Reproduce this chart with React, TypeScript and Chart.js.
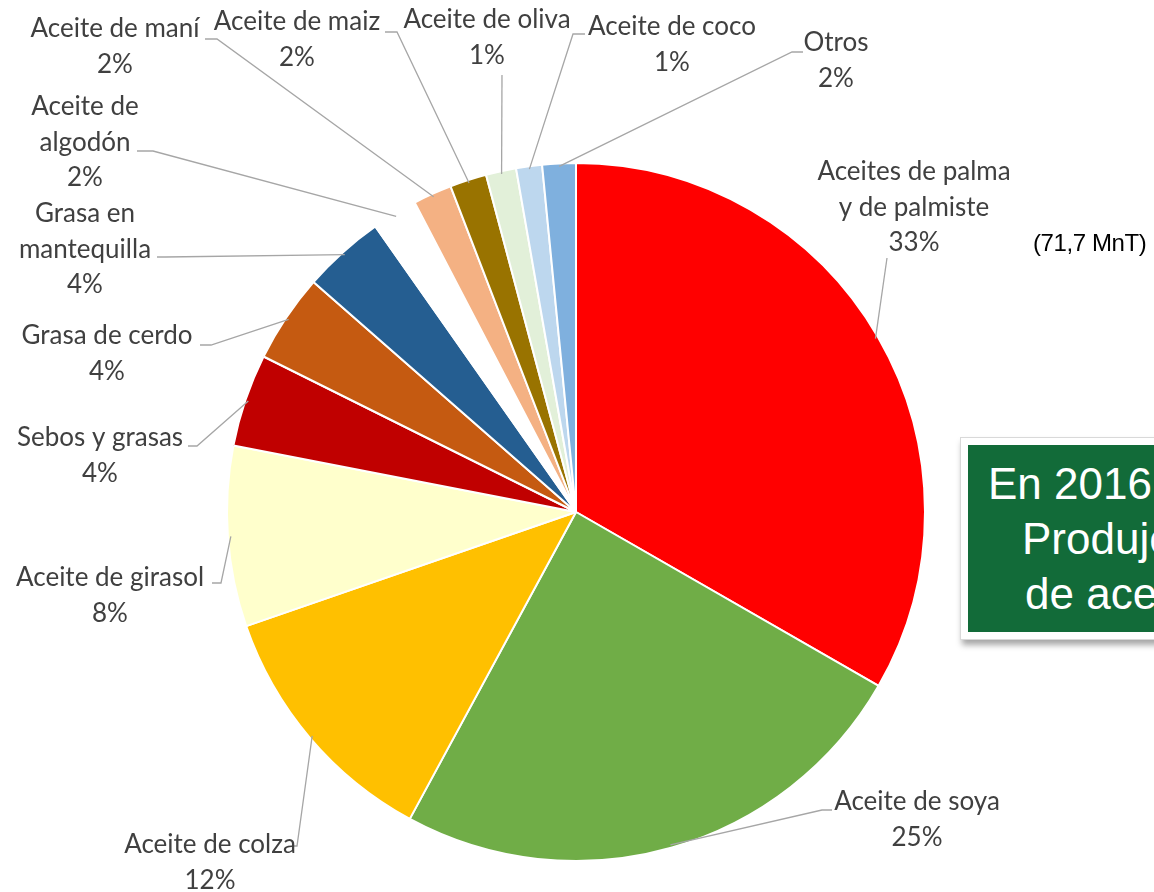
import React, { useEffect, useRef } from 'react';
import { Chart, registerables } from 'chart.js';

Chart.register(...registerables);

// ---- data ----
const categories = [
  'Aceites de palma\ny de palmiste',
  'Aceite de soya',
  'Aceite de colza',
  'Aceite de girasol',
  'Sebos y grasas',
  'Grasa de cerdo',
  'Grasa en\nmantequilla',
  'Aceite de\nalgodón',
  'Aceite de maní',
  'Aceite de maiz',
  'Aceite de oliva',
  'Aceite de coco',
  'Otros',
];
const shares = [33.3, 24.6, 11.8, 8.35, 4.3, 4.1, 3.8, 2.1, 1.8, 1.7, 1.4, 1.2, 1.55];
const sliceColors = [
  '#FF0000', '#70AD47', '#FFC000', '#FFFFCC', '#C00000', '#C55A11', '#255E91',
  '#FFFFFF', '#F4B183', '#997300', '#E2F0D9', '#BDD7EE', '#7FB0DE',
];
const palmNote = '(71,7 MnT)';
const boxLines = ['En 2016 se', 'Produjeron 217 MnT', 'de aceites y grasas'];

// ---- label layout (offsets from pie centre, px) ----
type LabelPos = { tx: number; ty: number; elbow: [number, number]; end: [number, number] | null };
const labelLayout: LabelPos[] = [
  { tx: 338, ty: -340, elbow: [311, -254], end: null },
  { tx: 341, ty: 290, elbow: [246, 298], end: [256, 298] },
  { tx: -366, ty: 333, elbow: [-279, 334], end: [-283, 334] },
  { tx: -466, ty: 66, elbow: [-355, 71], end: [-364, 71] },
  { tx: -476, ty: -74, elbow: [-379, -66], end: [-388, -66] },
  { tx: -469, ty: -176, elbow: [-365, -167], end: [-376, -167] },
  { tx: -491, ty: -298, elbow: [-411, -255], end: [-419, -255] },
  { tx: -491, ty: -405, elbow: [-423, -361], end: [-439, -361] },
  { tx: -461, ty: -483, elbow: [-359, -473], end: [-371, -473] },
  { tx: -279, ty: -490, elbow: [-179, -480], end: [-191, -480] },
  { tx: -89, ty: -492, elbow: [-74, -437], end: null },
  { tx: 96, ty: -485, elbow: [-3, -478], end: [9, -478] },
  { tx: 260, ty: -469, elbow: [216, -460], end: [227, -460] },
];

const LABEL_FONT = '26px Lato';
const LINE_H = 35.5;

const outerLabels = {
  id: 'outerLabels',
  afterDatasetsDraw(chart: any) {
    const ctx = chart.ctx as CanvasRenderingContext2D;
    const meta = chart.getDatasetMeta(0);
    const data = chart.data.datasets[0].data as number[];
    const total = data.reduce((a, b) => a + b, 0);
    ctx.save();
    meta.data.forEach((arc: any, i: number) => {
      const p = arc.getProps(['x', 'y', 'startAngle', 'endAngle', 'outerRadius'], true);
      const cx = p.x;
      const cy = p.y;
      const mid = (p.startAngle + p.endAngle) / 2;
      const r = p.outerRadius - 3;
      const lay = labelLayout[i];
      // leader line
      ctx.strokeStyle = '#A6A6A6';
      ctx.lineWidth = 1.3;
      ctx.beginPath();
      ctx.moveTo(cx + Math.cos(mid) * r, cy + Math.sin(mid) * r);
      ctx.lineTo(cx + lay.elbow[0], cy + lay.elbow[1]);
      if (lay.end) ctx.lineTo(cx + lay.end[0], cy + lay.end[1]);
      ctx.stroke();
      // text
      const lines = String(chart.data.labels[i]).split('\n');
      lines.push(Math.round((data[i] / total) * 100) + '%');
      ctx.fillStyle = '#404040';
      ctx.font = LABEL_FONT;
      ctx.textAlign = 'center';
      ctx.textBaseline = 'middle';
      lines.forEach((ln, k) => {
        ctx.fillText(ln, cx + lay.tx, cy + lay.ty + k * LINE_H);
      });
    });
    ctx.restore();
  },
};

export default function App() {
  const canvasRef = useRef<HTMLCanvasElement | null>(null);

  useEffect(() => {
    if (!canvasRef.current) return;
    const chart = new Chart(canvasRef.current, {
      type: 'pie',
      data: {
        labels: categories,
        datasets: [
          {
            data: shares,
            backgroundColor: sliceColors,
            borderColor: '#FFFFFF',
            borderWidth: 2,
          },
        ],
      },
      options: {
        animation: false,
        responsive: true,
        maintainAspectRatio: false,
        layout: { padding: { left: 226, right: 228, top: 162, bottom: 30 } },
        plugins: {
          legend: { display: false },
          tooltip: { enabled: false },
        },
      },
      plugins: [outerLabels],
    });
    return () => chart.destroy();
  }, []);

  return (
    <div
      style={{
        position: 'fixed',
        left: 0,
        top: 0,
        width: 1154,
        height: 892,
        overflow: 'hidden',
        background: '#FFFFFF',
      }}
    >
      <div style={{ position: 'absolute', left: 0, top: 0, width: 1154, height: 892 }}>
        <canvas ref={canvasRef} />
      </div>
      <div
        style={{
          position: 'absolute',
          left: 1033,
          top: 228,
          fontFamily: '"Liberation Sans", Arial, sans-serif',
          fontSize: 24,
          lineHeight: '30px',
          color: '#000000',
          whiteSpace: 'nowrap',
          letterSpacing: -0.4,
        }}
      >
        {palmNote}
      </div>
      <div
        style={{
          position: 'absolute',
          left: 960,
          top: 437,
          width: 420,
          height: 203,
          background: '#FFFFFF',
          border: '1px solid #D9D9D9',
          boxShadow: '2px 5px 6px rgba(0,0,0,0.35)',
          boxSizing: 'border-box',
        }}
      >
        <div
          style={{
            position: 'absolute',
            left: 7,
            top: 7,
            right: 7,
            bottom: 7,
            background: '#126B39',
            color: '#FFFFFF',
            fontFamily: '"Liberation Sans", Arial, sans-serif',
            fontSize: 44,
            lineHeight: '55px',
            whiteSpace: 'nowrap',
            paddingTop: 11,
            boxSizing: 'border-box',
          }}
        >
          <div style={{ paddingLeft: 20 }}>{boxLines[0]}</div>
          <div style={{ paddingLeft: 54 }}>{boxLines[1]}</div>
          <div style={{ paddingLeft: 57 }}>{boxLines[2]}</div>
        </div>
      </div>
    </div>
  );
}
